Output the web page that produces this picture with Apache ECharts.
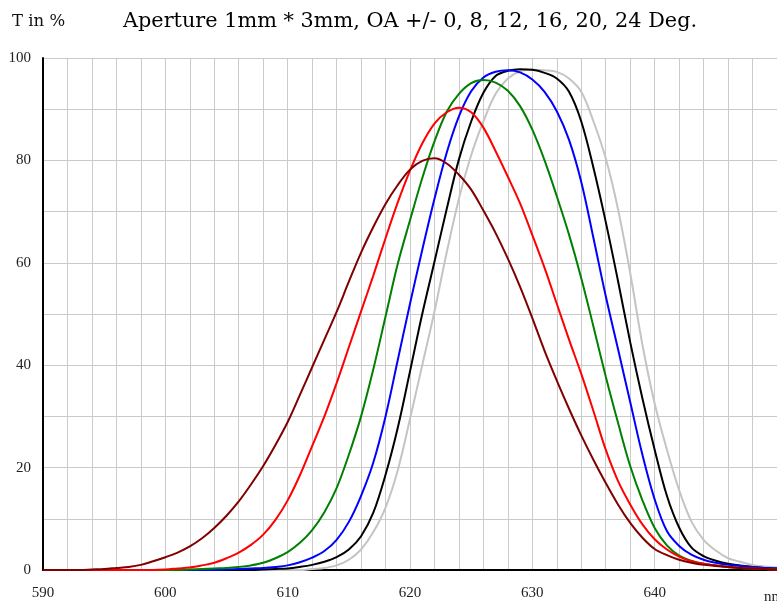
<!DOCTYPE html>
<html>
<head>
<meta charset="utf-8">
<script src="https://cdn.jsdelivr.net/npm/echarts@6/dist/echarts.min.js"></script>
<style>
  html, body { margin: 0; padding: 0; background: #fff; }
  #chart { width: 777px; height: 610px; }
</style>
</head>
<body>
<div id="chart"></div>
<script>
// wavelength in nm, one point per nm
var wavelengths = [590, 591, 592, 593, 594, 595, 596, 597, 598, 599,
    600, 601, 602, 603, 604, 605, 606, 607, 608, 609,
    610, 611, 612, 613, 614, 615, 616, 617, 618, 619,
    620, 621, 622, 623, 624, 625, 626, 627, 628, 629,
    630, 631, 632, 633, 634, 635, 636, 637, 638, 639,
    640, 641, 642, 643, 644, 645, 646, 647, 648, 649, 650];

// transmission in % for each angle of incidence
var deg0 = [0, 0, 0, 0, 0, 0, 0, 0, 0, 0,
    0, 0, 0, 0, 0, 0, 0, 0, 0, 0,
    0, 0, 0.2, 0.4, 0.9, 2.0, 4.0, 7.4, 12.2, 19.5,
    29.5, 40, 50.5, 62, 72.5, 81, 87.6, 93, 96, 97.4,
    97.7, 97.6, 97.3, 96, 93.4, 87.6, 80.4, 70.5, 58, 44,
    32.5, 23.5, 15.6, 9.5, 5.9, 3.8, 2.3, 1.6, 1.0, 0.7, 0.5];
var deg8 = [0, 0, 0, 0, 0, 0, 0, 0, 0, 0,
    0, 0, 0, 0, 0, 0, 0, 0, 0.1, 0.2,
    0.3, 0.6, 1.0, 1.6, 2.5, 4.0, 6.6, 11.2, 18.6, 27.8,
    38.8, 50, 60.2, 70.5, 80.2, 87.6, 93.2, 96.5, 97.5, 97.8,
    97.7, 97.1, 96, 93.4, 87.6, 78.5, 68, 56.5, 44.5, 33.5,
    23.5, 14.5, 8.3, 4.4, 2.7, 1.8, 1.2, 0.9, 0.6, 0.4, 0.3];
var deg12 = [0, 0, 0, 0, 0, 0, 0, 0, 0, 0,
    0, 0, 0, 0, 0, 0.1, 0.2, 0.3, 0.4, 0.6,
    0.9, 1.5, 2.4, 3.7, 5.9, 9.4, 14.5, 21, 30, 41,
    52, 62.5, 72.5, 81.5, 88.6, 93.5, 96.2, 97.3, 97.6, 97.2,
    95.8, 93.4, 89.6, 84, 75.8, 64.8, 53.5, 43.2, 32.8, 22.5,
    13.8, 7.6, 4.7, 3.0, 2.0, 1.4, 1.0, 0.8, 0.6, 0.4, 0.3];
var deg16 = [0, 0, 0, 0, 0, 0, 0, 0, 0, 0,
    0, 0, 0.1, 0.2, 0.3, 0.4, 0.6, 0.9, 1.4, 2.3,
    3.5, 5.3, 7.8, 11.3, 16, 22.5, 30, 39.2, 49.5, 59.8,
    68.3, 76.5, 83.7, 89.5, 93, 95.1, 95.7, 95.2, 93.6, 90.6,
    86, 80, 73, 65.5, 57, 47.5, 37.8, 28.8, 20.3, 13.6,
    8.2, 4.8, 2.8, 1.8, 1.2, 0.9, 0.6, 0.4, 0.3, 0.2, 0.1];
var deg20 = [0, 0, 0, 0, 0, 0, 0, 0, 0, 0,
    0.1, 0.3, 0.5, 0.9, 1.4, 2.3, 3.4, 4.9, 6.9, 9.8,
    13.6, 18.5, 24.2, 30, 36.5, 43.5, 50.5, 57.5, 64.8, 71.8,
    78, 83.3, 87.2, 89.4, 90.3, 89.4, 86.4, 81.8, 76.8, 71.6,
    65.4, 59, 52, 45, 38.3, 31, 23.5, 17.4, 12.8, 8.9,
    6.0, 4.0, 2.6, 1.7, 1.2, 0.9, 0.6, 0.4, 0.3, 0.2, 0.1];
var deg24 = [0, 0, 0, 0, 0.1, 0.2, 0.4, 0.6, 1.0, 1.7,
    2.5, 3.4, 4.6, 6.2, 8.2, 10.6, 13.4, 16.7, 20.3, 24.4,
    28.9, 34.2, 39.6, 45, 50.4, 56.3, 62, 67, 71.5, 75.2,
    78.2, 79.9, 80.4, 79.4, 77.2, 74.3, 70.2, 65.8, 60.8, 55.3,
    49.2, 42.8, 37, 31.5, 26.3, 21.5, 17, 12.8, 9.2, 6.3,
    4.1, 2.9, 2.0, 1.4, 1.0, 0.8, 0.6, 0.4, 0.3, 0.2, 0.1];

var curves = [
    { name: '0 Deg', data: deg0, color: '#c4c4c4' },
    { name: '8 Deg', data: deg8, color: '#000000' },
    { name: '12 Deg', data: deg12, color: '#0000ff' },
    { name: '16 Deg', data: deg16, color: '#008000' },
    { name: '20 Deg', data: deg20, color: '#ff0000' },
    { name: '24 Deg', data: deg24, color: '#800000' }
];

function pairs(values) {
    return wavelengths.map(function (w, i) { return [w, values[i]]; });
}

var chart = echarts.init(document.getElementById('chart'));
var serif = '"Liberation Serif", serif';
var wideSerif = '"DejaVu Serif", serif';

option = {
    animation: false,
    title: [{
        text: 'T in %',
        left: 7,
        top: 8,
        textStyle: { fontFamily: wideSerif, fontSize: 16.5, fontWeight: 'normal', color: '#111' }
    }, {
        text: 'Aperture 1mm * 3mm, OA +/- 0, 8, 12, 16, 20, 24 Deg.',
        left: 118,
        top: 6,
        textStyle: { fontFamily: wideSerif, fontSize: 20.8, fontWeight: 'normal', color: '#000' }
    }],
    graphic: [{
        type: 'text',
        left: 764,
        top: 590,
        style: { text: 'nm', font: '15px ' + serif, fill: '#222' }
    }],
    grid: {
        left: 43,
        top: 58,
        width: 738,
        bottom: 40
    },
    xAxis: {
        type: 'value',
        min: 590,
        max: 650,
        interval: 2,
        axisLine: { lineStyle: { color: '#000', width: 2 } },
        axisTick: { show: false },
        axisLabel: {
            margin: 16,
            fontFamily: serif,
            fontSize: 15,
            color: '#222',
            showMaxLabel: false,
            formatter: function (v) { return v % 10 === 0 && v < 650 ? String(v) : ''; }
        },
        splitLine: { show: true, lineStyle: { color: '#cacaca', width: 1 } }
    },
    yAxis: {
        type: 'value',
        min: 0,
        max: 100,
        interval: 10,
        axisLine: { show: true, lineStyle: { color: '#000', width: 2 } },
        axisTick: { show: false },
        axisLabel: {
            margin: 12,
            fontFamily: serif,
            fontSize: 15,
            color: '#222',
            formatter: function (v) { return v % 20 === 0 ? String(v) : ''; }
        },
        splitLine: { show: true, lineStyle: { color: '#cacaca', width: 1 } }
    },
    series: curves.map(function (c) {
        return {
            name: c.name,
            type: 'line',
            data: pairs(c.data),
            showSymbol: false,
            smooth: 0.35,
            lineStyle: { color: c.color, width: 2 },
            itemStyle: { color: c.color }
        };
    })
};

chart.setOption(option);
</script>
</body>
</html>
